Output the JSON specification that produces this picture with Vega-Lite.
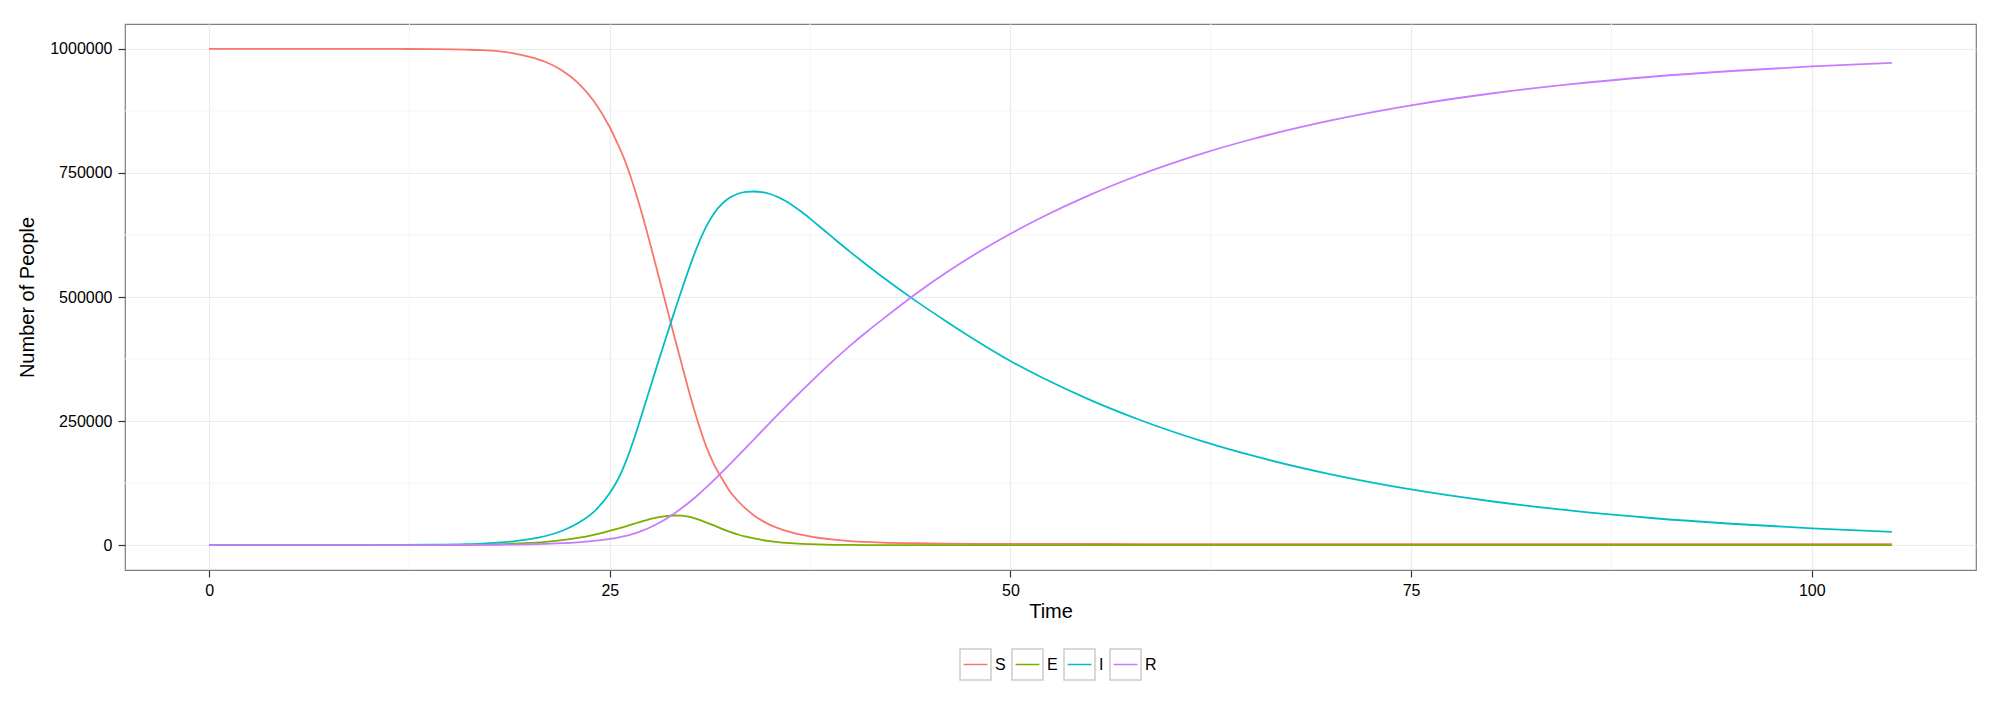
{
  "$schema": "https://vega.github.io/schema/vega-lite/v6.json",
  "width": 1851,
  "height": 546,
  "autosize": {"type": "none"},
  "padding": {"left": 125, "top": 24, "right": 27, "bottom": 149},
  "background": "white",
  "datasets": {
    "minorTime": [{"time": 12.5}, {"time": 37.5}, {"time": 62.5}, {"time": 87.5}],
    "minorPeople": [{"people": 125000}, {"people": 375000}, {"people": 625000}, {"people": 875000}],
    "seir": [
      {"time": 0, "compartment": "S", "people": 1000000},
      {"time": 5, "compartment": "S", "people": 1000000},
      {"time": 10, "compartment": "S", "people": 999900},
      {"time": 12, "compartment": "S", "people": 999700},
      {"time": 14, "compartment": "S", "people": 999300},
      {"time": 16, "compartment": "S", "people": 998300},
      {"time": 17, "compartment": "S", "people": 997300},
      {"time": 18, "compartment": "S", "people": 995200},
      {"time": 19, "compartment": "S", "people": 991000},
      {"time": 20, "compartment": "S", "people": 984000},
      {"time": 21, "compartment": "S", "people": 973500},
      {"time": 22, "compartment": "S", "people": 957000},
      {"time": 23, "compartment": "S", "people": 932000},
      {"time": 24, "compartment": "S", "people": 895000},
      {"time": 25, "compartment": "S", "people": 842000},
      {"time": 25.5, "compartment": "S", "people": 808000},
      {"time": 26, "compartment": "S", "people": 770000},
      {"time": 26.5, "compartment": "S", "people": 722500},
      {"time": 27, "compartment": "S", "people": 668500},
      {"time": 27.5, "compartment": "S", "people": 609500},
      {"time": 28, "compartment": "S", "people": 548000},
      {"time": 28.5, "compartment": "S", "people": 486000},
      {"time": 29, "compartment": "S", "people": 424000},
      {"time": 29.5, "compartment": "S", "people": 363000},
      {"time": 30, "compartment": "S", "people": 303000},
      {"time": 30.5, "compartment": "S", "people": 248000},
      {"time": 31, "compartment": "S", "people": 200000},
      {"time": 31.5, "compartment": "S", "people": 163000},
      {"time": 32, "compartment": "S", "people": 134000},
      {"time": 32.5, "compartment": "S", "people": 108000},
      {"time": 33, "compartment": "S", "people": 89000},
      {"time": 33.5, "compartment": "S", "people": 73000},
      {"time": 34, "compartment": "S", "people": 60000},
      {"time": 34.5, "compartment": "S", "people": 49500},
      {"time": 35, "compartment": "S", "people": 41000},
      {"time": 35.5, "compartment": "S", "people": 34500},
      {"time": 36, "compartment": "S", "people": 29000},
      {"time": 36.5, "compartment": "S", "people": 24500},
      {"time": 37, "compartment": "S", "people": 20700},
      {"time": 37.5, "compartment": "S", "people": 17600},
      {"time": 38, "compartment": "S", "people": 15000},
      {"time": 39, "compartment": "S", "people": 11000},
      {"time": 40, "compartment": "S", "people": 8200},
      {"time": 41, "compartment": "S", "people": 6500},
      {"time": 42, "compartment": "S", "people": 5300},
      {"time": 44, "compartment": "S", "people": 3900},
      {"time": 46, "compartment": "S", "people": 3200},
      {"time": 48, "compartment": "S", "people": 2800},
      {"time": 50, "compartment": "S", "people": 2600},
      {"time": 52, "compartment": "S", "people": 2500},
      {"time": 55, "compartment": "S", "people": 2400},
      {"time": 58, "compartment": "S", "people": 2300},
      {"time": 62, "compartment": "S", "people": 2300},
      {"time": 65, "compartment": "S", "people": 2300},
      {"time": 70, "compartment": "S", "people": 2300},
      {"time": 75, "compartment": "S", "people": 2300},
      {"time": 80, "compartment": "S", "people": 2300},
      {"time": 85, "compartment": "S", "people": 2300},
      {"time": 90, "compartment": "S", "people": 2300},
      {"time": 95, "compartment": "S", "people": 2300},
      {"time": 100, "compartment": "S", "people": 2300},
      {"time": 105, "compartment": "S", "people": 2300},

      {"time": 0, "compartment": "E", "people": 0},
      {"time": 5, "compartment": "E", "people": 5},
      {"time": 10, "compartment": "E", "people": 50},
      {"time": 12, "compartment": "E", "people": 120},
      {"time": 14, "compartment": "E", "people": 300},
      {"time": 16, "compartment": "E", "people": 750},
      {"time": 17, "compartment": "E", "people": 1150},
      {"time": 18, "compartment": "E", "people": 1800},
      {"time": 19, "compartment": "E", "people": 2900},
      {"time": 20, "compartment": "E", "people": 4500},
      {"time": 21, "compartment": "E", "people": 6600},
      {"time": 22, "compartment": "E", "people": 10000},
      {"time": 23, "compartment": "E", "people": 14700},
      {"time": 24, "compartment": "E", "people": 21000},
      {"time": 25, "compartment": "E", "people": 29000},
      {"time": 25.5, "compartment": "E", "people": 33500},
      {"time": 26, "compartment": "E", "people": 38000},
      {"time": 26.5, "compartment": "E", "people": 43000},
      {"time": 27, "compartment": "E", "people": 48000},
      {"time": 27.5, "compartment": "E", "people": 52500},
      {"time": 28, "compartment": "E", "people": 56000},
      {"time": 28.5, "compartment": "E", "people": 58600},
      {"time": 29, "compartment": "E", "people": 59800},
      {"time": 29.5, "compartment": "E", "people": 59500},
      {"time": 30, "compartment": "E", "people": 56800},
      {"time": 30.5, "compartment": "E", "people": 52000},
      {"time": 31, "compartment": "E", "people": 46000},
      {"time": 31.5, "compartment": "E", "people": 40000},
      {"time": 32, "compartment": "E", "people": 33000},
      {"time": 32.5, "compartment": "E", "people": 27000},
      {"time": 33, "compartment": "E", "people": 21500},
      {"time": 33.5, "compartment": "E", "people": 17000},
      {"time": 34, "compartment": "E", "people": 13500},
      {"time": 34.5, "compartment": "E", "people": 10500},
      {"time": 35, "compartment": "E", "people": 8000},
      {"time": 35.5, "compartment": "E", "people": 6100},
      {"time": 36, "compartment": "E", "people": 4600},
      {"time": 36.5, "compartment": "E", "people": 3500},
      {"time": 37, "compartment": "E", "people": 2600},
      {"time": 37.5, "compartment": "E", "people": 2000},
      {"time": 38, "compartment": "E", "people": 1500},
      {"time": 39, "compartment": "E", "people": 800},
      {"time": 40, "compartment": "E", "people": 450},
      {"time": 41, "compartment": "E", "people": 260},
      {"time": 42, "compartment": "E", "people": 150},
      {"time": 44, "compartment": "E", "people": 50},
      {"time": 46, "compartment": "E", "people": 20},
      {"time": 48, "compartment": "E", "people": 8},
      {"time": 50, "compartment": "E", "people": 3},
      {"time": 52, "compartment": "E", "people": 1},
      {"time": 55, "compartment": "E", "people": 0},
      {"time": 58, "compartment": "E", "people": 0},
      {"time": 62, "compartment": "E", "people": 0},
      {"time": 65, "compartment": "E", "people": 0},
      {"time": 70, "compartment": "E", "people": 0},
      {"time": 75, "compartment": "E", "people": 0},
      {"time": 80, "compartment": "E", "people": 0},
      {"time": 85, "compartment": "E", "people": 0},
      {"time": 90, "compartment": "E", "people": 0},
      {"time": 95, "compartment": "E", "people": 0},
      {"time": 100, "compartment": "E", "people": 0},
      {"time": 105, "compartment": "E", "people": 0},

      {"time": 0, "compartment": "I", "people": 1},
      {"time": 5, "compartment": "I", "people": 14},
      {"time": 10, "compartment": "I", "people": 140},
      {"time": 12, "compartment": "I", "people": 340},
      {"time": 14, "compartment": "I", "people": 840},
      {"time": 16, "compartment": "I", "people": 2050},
      {"time": 17, "compartment": "I", "people": 3200},
      {"time": 18, "compartment": "I", "people": 5000},
      {"time": 19, "compartment": "I", "people": 7800},
      {"time": 20, "compartment": "I", "people": 12000},
      {"time": 21, "compartment": "I", "people": 18500},
      {"time": 22, "compartment": "I", "people": 28500},
      {"time": 23, "compartment": "I", "people": 44000},
      {"time": 24, "compartment": "I", "people": 67000},
      {"time": 25, "compartment": "I", "people": 105000},
      {"time": 25.5, "compartment": "I", "people": 131750},
      {"time": 26, "compartment": "I", "people": 167750},
      {"time": 26.5, "compartment": "I", "people": 212750},
      {"time": 27, "compartment": "I", "people": 263250},
      {"time": 27.5, "compartment": "I", "people": 315250},
      {"time": 28, "compartment": "I", "people": 366750},
      {"time": 28.5, "compartment": "I", "people": 417250},
      {"time": 29, "compartment": "I", "people": 467000},
      {"time": 29.5, "compartment": "I", "people": 515750},
      {"time": 30, "compartment": "I", "people": 562250},
      {"time": 30.5, "compartment": "I", "people": 604750},
      {"time": 31, "compartment": "I", "people": 640750},
      {"time": 31.5, "compartment": "I", "people": 668250},
      {"time": 32, "compartment": "I", "people": 687500},
      {"time": 32.5, "compartment": "I", "people": 700250},
      {"time": 33, "compartment": "I", "people": 708000},
      {"time": 33.5, "compartment": "I", "people": 711750},
      {"time": 34, "compartment": "I", "people": 712500},
      {"time": 34.5, "compartment": "I", "people": 711250},
      {"time": 35, "compartment": "I", "people": 707500},
      {"time": 35.5, "compartment": "I", "people": 701250},
      {"time": 36, "compartment": "I", "people": 692750},
      {"time": 36.5, "compartment": "I", "people": 682500},
      {"time": 37, "compartment": "I", "people": 670750},
      {"time": 37.5, "compartment": "I", "people": 657900},
      {"time": 38, "compartment": "I", "people": 644500},
      {"time": 39, "compartment": "I", "people": 617500},
      {"time": 40, "compartment": "I", "people": 591000},
      {"time": 41, "compartment": "I", "people": 565500},
      {"time": 42, "compartment": "I", "people": 540800},
      {"time": 44, "compartment": "I", "people": 494200},
      {"time": 46, "compartment": "I", "people": 450800},
      {"time": 48, "compartment": "I", "people": 409500},
      {"time": 50, "compartment": "I", "people": 371100},
      {"time": 52, "compartment": "I", "people": 337300},
      {"time": 55, "compartment": "I", "people": 292200},
      {"time": 58, "compartment": "I", "people": 253200},
      {"time": 62, "compartment": "I", "people": 209100},
      {"time": 65, "compartment": "I", "people": 181200},
      {"time": 70, "compartment": "I", "people": 142700},
      {"time": 75, "compartment": "I", "people": 112300},
      {"time": 80, "compartment": "I", "people": 88500},
      {"time": 85, "compartment": "I", "people": 69700},
      {"time": 90, "compartment": "I", "people": 54800},
      {"time": 95, "compartment": "I", "people": 43200},
      {"time": 100, "compartment": "I", "people": 34000},
      {"time": 105, "compartment": "I", "people": 26800},

      {"time": 0, "compartment": "R", "people": 0},
      {"time": 5, "compartment": "R", "people": 3},
      {"time": 10, "compartment": "R", "people": 40},
      {"time": 12, "compartment": "R", "people": 90},
      {"time": 14, "compartment": "R", "people": 200},
      {"time": 16, "compartment": "R", "people": 450},
      {"time": 17, "compartment": "R", "people": 650},
      {"time": 18, "compartment": "R", "people": 900},
      {"time": 19, "compartment": "R", "people": 1300},
      {"time": 20, "compartment": "R", "people": 1900},
      {"time": 21, "compartment": "R", "people": 2800},
      {"time": 22, "compartment": "R", "people": 4000},
      {"time": 23, "compartment": "R", "people": 5800},
      {"time": 24, "compartment": "R", "people": 8500},
      {"time": 25, "compartment": "R", "people": 12500},
      {"time": 25.5, "compartment": "R", "people": 15300},
      {"time": 26, "compartment": "R", "people": 18800},
      {"time": 26.5, "compartment": "R", "people": 23300},
      {"time": 27, "compartment": "R", "people": 28900},
      {"time": 27.5, "compartment": "R", "people": 35700},
      {"time": 28, "compartment": "R", "people": 43700},
      {"time": 28.5, "compartment": "R", "people": 52900},
      {"time": 29, "compartment": "R", "people": 63300},
      {"time": 29.5, "compartment": "R", "people": 74800},
      {"time": 30, "compartment": "R", "people": 87500},
      {"time": 30.5, "compartment": "R", "people": 101200},
      {"time": 31, "compartment": "R", "people": 115800},
      {"time": 31.5, "compartment": "R", "people": 131200},
      {"time": 32, "compartment": "R", "people": 147100},
      {"time": 32.5, "compartment": "R", "people": 163500},
      {"time": 33, "compartment": "R", "people": 180000},
      {"time": 33.5, "compartment": "R", "people": 196700},
      {"time": 34, "compartment": "R", "people": 213400},
      {"time": 34.5, "compartment": "R", "people": 230100},
      {"time": 35, "compartment": "R", "people": 246800},
      {"time": 35.5, "compartment": "R", "people": 263400},
      {"time": 36, "compartment": "R", "people": 279800},
      {"time": 36.5, "compartment": "R", "people": 296000},
      {"time": 37, "compartment": "R", "people": 311900},
      {"time": 37.5, "compartment": "R", "people": 327600},
      {"time": 38, "compartment": "R", "people": 343100},
      {"time": 39, "compartment": "R", "people": 373200},
      {"time": 40, "compartment": "R", "people": 402000},
      {"time": 41, "compartment": "R", "people": 429000},
      {"time": 42, "compartment": "R", "people": 454500},
      {"time": 44, "compartment": "R", "people": 504100},
      {"time": 46, "compartment": "R", "people": 549200},
      {"time": 48, "compartment": "R", "people": 590200},
      {"time": 50, "compartment": "R", "people": 627400},
      {"time": 52, "compartment": "R", "people": 661200},
      {"time": 55, "compartment": "R", "people": 706300},
      {"time": 58, "compartment": "R", "people": 745300},
      {"time": 62, "compartment": "R", "people": 789400},
      {"time": 65, "compartment": "R", "people": 817300},
      {"time": 70, "compartment": "R", "people": 855800},
      {"time": 75, "compartment": "R", "people": 886200},
      {"time": 80, "compartment": "R", "people": 910000},
      {"time": 85, "compartment": "R", "people": 928800},
      {"time": 90, "compartment": "R", "people": 943700},
      {"time": 95, "compartment": "R", "people": 955300},
      {"time": 100, "compartment": "R", "people": 964500},
      {"time": 105, "compartment": "R", "people": 971700}
    ]
  },
  "layer": [
    {
      "data": {"name": "minorTime"},
      "mark": {"type": "rule", "color": "#f5f5f5", "strokeWidth": 1},
      "encoding": {
        "x": {
          "field": "time",
          "type": "quantitative",
          "scale": {"domain": [-5.25, 110.25], "nice": false, "zero": false},
          "axis": {
            "title": "Time",
            "values": [0, 25, 50, 75, 100],
            "labelPadding": 5,
            "titleY": 47,
            "titleBaseline": "alphabetic"
          }
        }
      }
    },
    {
      "data": {"name": "minorPeople"},
      "mark": {"type": "rule", "color": "#f5f5f5", "strokeWidth": 1},
      "encoding": {
        "y": {
          "field": "people",
          "type": "quantitative",
          "scale": {"domain": [-50000, 1050000], "nice": false, "zero": false},
          "axis": {
            "title": "Number of People",
            "values": [0, 250000, 500000, 750000, 1000000],
            "format": "d",
            "labelPadding": 6,
            "titleAngle": -90,
            "titleX": -92,
            "titleY": 273,
            "titleBaseline": "alphabetic"
          }
        }
      }
    },
    {
      "data": {"name": "seir"},
      "mark": {"type": "line", "strokeWidth": 1.8, "interpolate": "monotone"},
      "encoding": {
        "x": {
          "field": "time",
          "type": "quantitative",
          "scale": {"domain": [-5.25, 110.25], "nice": false, "zero": false},
          "axis": {
            "title": "Time",
            "values": [0, 25, 50, 75, 100],
            "labelPadding": 5,
            "titleY": 47,
            "titleBaseline": "alphabetic"
          }
        },
        "y": {
          "field": "people",
          "type": "quantitative",
          "scale": {"domain": [-50000, 1050000], "nice": false, "zero": false},
          "axis": {
            "title": "Number of People",
            "values": [0, 250000, 500000, 750000, 1000000],
            "format": "d",
            "labelPadding": 6,
            "titleAngle": -90,
            "titleX": -92,
            "titleY": 273,
            "titleBaseline": "alphabetic"
          }
        },
        "color": {
          "field": "compartment",
          "type": "nominal",
          "scale": {"domain": ["S", "E", "I", "R"], "range": ["#F8766D", "#7CAE00", "#00BFC4", "#C77CFF"]},
          "legend": {
            "title": null,
            "orient": "none",
            "legendX": 834,
            "legendY": 624,
            "direction": "horizontal",
            "columns": 4,
            "padding": 0,
            "symbolType": "M-1,-1M1,1M-0.77,0H0.77",
            "symbolSize": 961,
            "symbolStrokeWidth": 1.5,
            "labelOffset": 3,
            "columnPadding": 3
          }
        }
      }
    },
    {
      "data": {"name": "seir"},
      "transform": [{"filter": "datum.time < 0"}],
      "mark": {"type": "point", "filled": false, "color": "#cccccc", "strokeWidth": 1.5},
      "encoding": {
        "shape": {
          "field": "compartment",
          "type": "nominal",
          "scale": {"domain": ["Sx", "Ex", "Ix", "Rx"], "range": ["square", "square", "square", "square"]},
          "legend": {
            "title": null,
            "orient": "none",
            "legendX": 834,
            "legendY": 624,
            "direction": "horizontal",
            "columns": 4,
            "padding": 0,
            "symbolSize": 961,
            "symbolStrokeWidth": 1.5,
            "symbolStrokeColor": "#cccccc",
            "symbolFillColor": "transparent",
            "symbolOpacity": 1,
            "labelExpr": "substring(datum.label, 0, 1)",
            "labelOpacity": 0,
            "labelOffset": 3,
            "columnPadding": 3
          }
        }
      }
    }
  ],
  "config": {
    "font": "Liberation Sans",
    "view": {"stroke": "#7f7f7f", "strokeWidth": 1.2},
    "axis": {
      "domain": false,
      "grid": true,
      "gridColor": "#ebebeb",
      "gridWidth": 1.2,
      "ticks": true,
      "tickSize": 7,
      "tickColor": "#333333",
      "tickWidth": 1.2,
      "labelFont": "Liberation Sans",
      "labelFontSize": 16,
      "labelColor": "#000000",
      "labelOverlap": false,
      "titleFont": "Liberation Sans",
      "titleFontSize": 20,
      "titleFontWeight": "normal",
      "titleColor": "#000000"
    },
    "legend": {
      "labelFont": "Liberation Sans",
      "labelFontSize": 16,
      "labelColor": "#000000"
    }
  }
}
